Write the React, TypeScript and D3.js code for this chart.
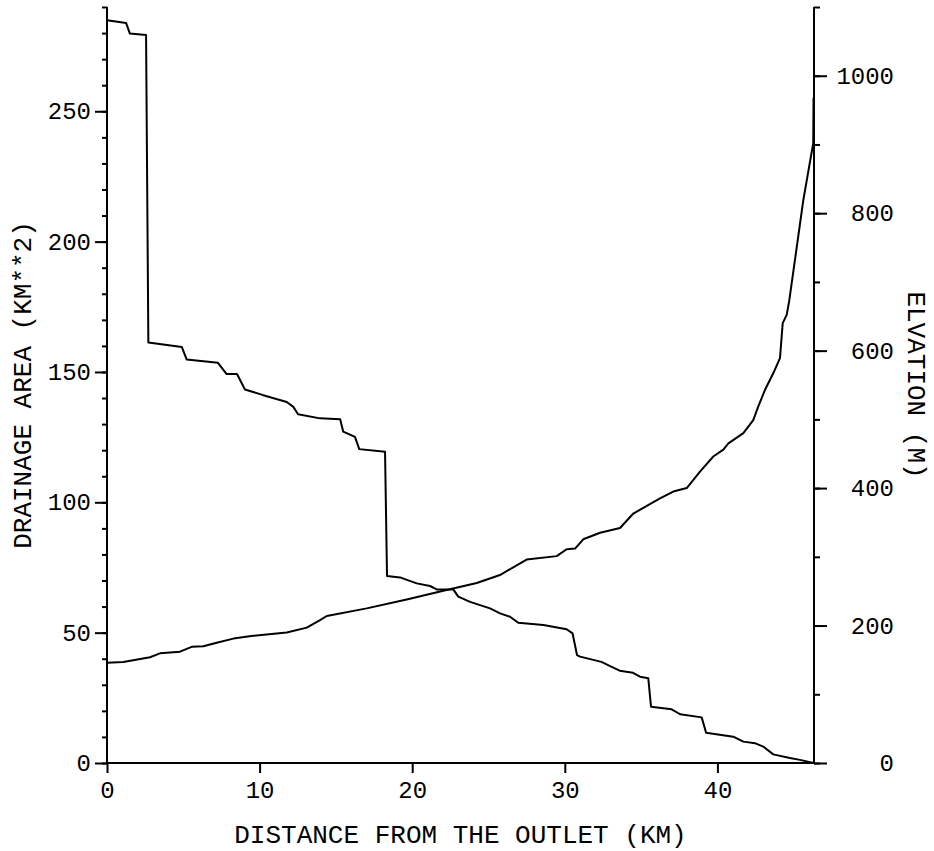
import React, { useEffect, useRef } from "react";
import * as d3 from "d3";

// drainage area along the channel (km, km**2)
const areaDistance = [0, 1.25, 1.5, 2.56, 2.71, 4.9, 5.22, 7.27, 7.84, 8.52, 9.04, 10.24, 11.78, 12.21, 12.52, 13.96, 15.28, 15.48, 16.25, 16.53, 18.22, 18.35, 19.2, 20.3, 21.17, 21.6, 22.69, 23.02, 23.79, 25.1, 25.76, 26.41, 26.95, 28.6, 30.12, 30.51, 30.8, 31.0, 32.4, 33.07, 33.6, 34.47, 34.93, 35.47, 35.65, 37.0, 37.56, 38.97, 39.26, 41.04, 41.7, 42.46, 43.0, 43.66, 44.75, 45.41, 46.3];
const areaValues = [284.9, 283.9, 279.8, 279.3, 161.3, 159.6, 154.8, 153.5, 149.2, 149.2, 143.3, 141.1, 138.5, 136.6, 133.8, 132.2, 131.9, 127.1, 125.1, 120.4, 119.4, 71.7, 71.2, 68.9, 67.9, 66.6, 66.6, 63.8, 61.8, 59.3, 57.4, 56.1, 53.8, 52.9, 51.3, 49.7, 41.4, 40.8, 38.8, 36.9, 35.4, 34.6, 33.1, 32.5, 21.6, 20.6, 18.7, 17.5, 11.6, 10.1, 8.2, 7.6, 6.3, 3.3, 1.9, 1.2, 0];

// elevation profile (km, m)
const elevDistance = [0, 1.07, 2.82, 3.47, 4.78, 5.55, 6.31, 7.19, 8.28, 9.59, 11.78, 13.09, 13.96, 14.4, 17.02, 19.64, 22.04, 24.23, 25.75, 27.5, 29.47, 30.12, 30.67, 31.21, 32.31, 33.62, 34.49, 36.24, 37.11, 37.99, 38.86, 39.73, 40.39, 40.72, 41.7, 42.35, 42.68, 43.12, 43.66, 44.1, 44.28, 44.54, 44.71, 45.63, 46.28, 46.3];
const elevValues = [146, 147, 153.8, 159.6, 162, 169, 170, 175, 181, 185, 190, 197, 208, 213.9, 225, 238, 250.7, 262, 273.5, 296, 301, 311, 312, 325.5, 335, 342, 363, 385, 395, 400, 424, 446, 456, 465, 480, 499, 519, 543, 567, 589, 640, 652, 673, 819, 902, 968];

const xTicks = [0, 10, 20, 30, 40];
const leftTicks = [0, 50, 100, 150, 200, 250];
const rightTicks = [0, 200, 400, 600, 800, 1000];

const xTitle = "DISTANCE FROM THE OUTLET (KM)";
const leftTitle = "DRAINAGE AREA (KM**2)";
const rightTitle = "ELVATION (M)";

const FONT = "'Liberation Mono', 'DejaVu Sans Mono', monospace";

export default function App() {
  const svgRef = useRef<SVGSVGElement>(null);
  const width = 934;
  const height = 851;
  const m = { left: 107, right: 814, top: 7, bottom: 763 };

  useEffect(() => {
    const svg = d3.select(svgRef.current);
    svg.selectAll("*").remove();

    const x = d3.scaleLinear().domain([0, 46.33]).range([m.left, m.right]);
    const yL = d3.scaleLinear().domain([0, 290]).range([m.bottom, m.top]);
    const yR = d3.scaleLinear().domain([0, 1100]).range([m.bottom, m.top]);
    const fmt = d3.format("d");

    const g = svg.append("g");

    // left axis: major ticks every 50, minor every 10
    g.append("g")
      .attr("transform", `translate(${m.left},0)`)
      .call(d3.axisLeft(yL).tickValues(d3.range(0, 291, 10)).tickSize(5).tickFormat(() => ""))
      .call(a => a.select(".domain").remove());
    g.append("g")
      .attr("transform", `translate(${m.left},0)`)
      .call(d3.axisLeft(yL).tickValues(leftTicks).tickFormat(fmt).tickSize(12).tickPadding(4).tickSizeOuter(0))
      .call(a => a.select(".domain").remove());

    // right axis: major every 200, minor every 100
    g.append("g")
      .attr("transform", `translate(${m.right},0)`)
      .call(d3.axisRight(yR).tickValues(d3.range(0, 1101, 100)).tickSize(6).tickFormat(() => ""))
      .call(a => a.select(".domain").remove());
    const rAxis = g.append("g")
      .attr("transform", `translate(${m.right},0)`)
      .call(d3.axisRight(yR).tickValues(rightTicks).tickFormat(fmt).tickSize(13).tickSizeOuter(0))
      .call(a => a.select(".domain").remove());
    rAxis.selectAll("text").attr("x", 80).attr("text-anchor", "end");

    // bottom axis
    g.append("g")
      .attr("transform", `translate(0,${m.bottom})`)
      .call(d3.axisBottom(x).tickValues(xTicks).tickFormat(fmt).tickSize(10).tickPadding(8).tickSizeOuter(0))
      .call(a => a.select(".domain").remove());

    // axis spines
    g.append("line").attr("x1", m.left).attr("x2", m.left).attr("y1", m.top).attr("y2", m.bottom);
    g.append("line").attr("x1", m.right).attr("x2", m.right).attr("y1", m.top).attr("y2", m.bottom);
    g.append("line").attr("x1", m.left).attr("x2", m.right).attr("y1", m.bottom).attr("y2", m.bottom);
    g.selectAll("line").attr("stroke", "#000").attr("stroke-width", 2);

    g.selectAll(".tick text")
      .attr("font-family", FONT)
      .attr("font-size", 24)
      .attr("fill", "#000");

    const areaLine = d3.line<number>()
      .x((d, i) => x(areaDistance[i]))
      .y(d => yL(d));
    const elevLine = d3.line<number>()
      .x((d, i) => x(elevDistance[i]))
      .y(d => yR(d));

    g.append("path")
      .datum(areaValues)
      .attr("fill", "none")
      .attr("stroke", "#000")
      .attr("stroke-width", 2)
      .attr("stroke-linejoin", "round")
      .attr("d", areaLine);

    g.append("path")
      .datum(elevValues)
      .attr("fill", "none")
      .attr("stroke", "#000")
      .attr("stroke-width", 2)
      .attr("stroke-linejoin", "round")
      .attr("d", elevLine);

    // titles
    g.append("text")
      .attr("x", (m.left + m.right) / 2)
      .attr("y", 843)
      .attr("text-anchor", "middle")
      .attr("font-family", FONT)
      .attr("font-size", 26)
      .text(xTitle);

    g.append("text")
      .attr("transform", `translate(31,${(m.top + m.bottom) / 2}) rotate(-90)`)
      .attr("text-anchor", "middle")
      .attr("font-family", FONT)
      .attr("font-size", 26)
      .text(leftTitle);

    g.append("text")
      .attr("transform", `translate(908,${(m.top + m.bottom) / 2}) rotate(90)`)
      .attr("text-anchor", "middle")
      .attr("font-family", FONT)
      .attr("font-size", 26)
      .text(rightTitle);
  }, []);

  return (
    <svg
      ref={svgRef}
      width={width}
      height={height}
      style={{ position: "absolute", left: 0, top: 0, background: "#fff" }}
    ></svg>
  );
}
